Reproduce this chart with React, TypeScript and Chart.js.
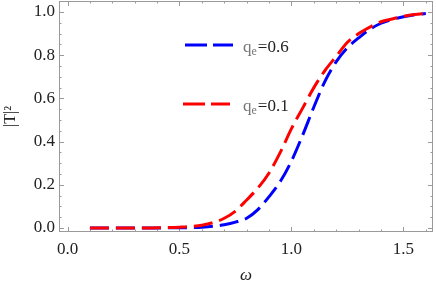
import React, { useEffect, useRef } from 'react';
import { Chart, registerables } from 'chart.js';

Chart.register(...registerables);

// ω values
const omega = [
  0.1, 0.15, 0.2, 0.25, 0.3, 0.35, 0.4, 0.45, 0.5, 0.55, 0.6, 0.65, 0.7, 0.75, 0.8,
  0.85, 0.9, 0.95, 1.0, 1.05, 1.1, 1.15, 1.2, 1.25, 1.3, 1.35, 1.4, 1.45, 1.5, 1.55, 1.6,
];
// |T|^2 for q_e = 0.6 (blue)
const tQe06 = [
  0.0, 0.0, 0.0, 0.0, 0.0, 0.0, 0.0, 0.001, 0.001, 0.002, 0.004, 0.008, 0.015, 0.027, 0.045,
  0.085, 0.145, 0.215, 0.31, 0.43, 0.56, 0.68, 0.77, 0.835, 0.88, 0.92, 0.948, 0.966, 0.978, 0.987, 0.993,
];
// |T|^2 for q_e = 0.1 (red)
const tQe01 = [
  0.0, 0.0, 0.0, 0.0, 0.0, 0.0, 0.001, 0.002, 0.004, 0.007, 0.013, 0.025, 0.045, 0.078, 0.13,
  0.185, 0.255, 0.35, 0.46, 0.555, 0.65, 0.73, 0.795, 0.86, 0.9, 0.93, 0.955, 0.968, 0.98, 0.988, 0.993,
];

const seriesLabels = ['0.6', '0.1'];
const seriesColors = ['#0000ff', '#ff0000'];

const xMajorTicks = [0, 0.5, 1.0, 1.5];
const xMinorTicks = [0.1, 0.2, 0.3, 0.4, 0.6, 0.7, 0.8, 0.9, 1.1, 1.2, 1.3, 1.4, 1.6];
const yMajorTicks = [0, 0.2, 0.4, 0.6, 0.8, 1.0];
const yMinorTicks = [
  0.05, 0.1, 0.15, 0.25, 0.3, 0.35, 0.45, 0.5, 0.55, 0.65, 0.7, 0.75, 0.85, 0.9, 0.95,
];

const X_MIN = -0.038;
const X_MAX = 1.632;
const Y_MIN = -0.0185;
const Y_MAX = 1.051;

const FONT = "'Liberation Serif'";
const DASH = [19, 7];

const zeroPad = (s: any) => {
  s.paddingTop = 0;
  s.paddingBottom = 0;
  s.paddingLeft = 0;
  s.paddingRight = 0;
};

const framePlugin = {
  id: 'mmaFrame',
  beforeDatasetsDraw(chart: any) {
    const { ctx, chartArea: a, scales } = chart;
    const x = scales.x;
    const y = scales.y;
    ctx.save();
    ctx.strokeStyle = '#9a9a9a';
    ctx.lineWidth = 1;
    ctx.strokeRect(a.left + 0.5, a.top + 0.5, a.right - a.left - 1, a.bottom - a.top - 1);
    ctx.beginPath();
    const xt = (vals: number[], len: number) => {
      vals.forEach((v) => {
        const px = Math.round(x.getPixelForValue(v)) + 0.5;
        ctx.moveTo(px, a.bottom);
        ctx.lineTo(px, a.bottom - len);
        ctx.moveTo(px, a.top);
        ctx.lineTo(px, a.top + len);
      });
    };
    const yt = (vals: number[], len: number) => {
      vals.forEach((v) => {
        const py = Math.round(y.getPixelForValue(v)) + 0.5;
        ctx.moveTo(a.left, py);
        ctx.lineTo(a.left + len, py);
        ctx.moveTo(a.right, py);
        ctx.lineTo(a.right - len, py);
      });
    };
    xt(xMajorTicks, 5);
    xt(xMinorTicks, 2.5);
    yt(yMajorTicks, 5);
    yt(yMinorTicks, 2.5);
    ctx.stroke();
    ctx.restore();
  },
  afterDraw(chart: any) {
    const { ctx, chartArea: a } = chart;
    ctx.save();
    const rows = [
      { dy: 44, x0: 126, x1: 174 },
      { dy: 103, x0: 124, x1: 171 },
    ];
    rows.forEach((r, i) => {
      const yy = a.top + r.dy;
      ctx.strokeStyle = seriesColors[i];
      ctx.lineWidth = 3;
      ctx.setLineDash([22, 6]);
      ctx.beginPath();
      ctx.moveTo(a.left + r.x0, yy);
      ctx.lineTo(a.left + r.x1, yy);
      ctx.stroke();
      ctx.setLineDash([]);
      let tx = a.left + 184;
      const base = yy + 7;
      ctx.textBaseline = 'alphabetic';
      ctx.textAlign = 'left';
      ctx.font = `17px ${FONT}`;
      ctx.fillStyle = '#777777';
      ctx.fillText('q', tx, base);
      tx += ctx.measureText('q').width;
      ctx.font = `12px ${FONT}`;
      ctx.fillText('e', tx, base + 3);
      tx += ctx.measureText('e').width + 1;
      ctx.font = `17px ${FONT}`;
      ctx.fillStyle = '#222222';
      ctx.fillText('=' + seriesLabels[i], tx, base);
    });
    ctx.restore();
  },
};

export default function App() {
  const ref = useRef<HTMLCanvasElement | null>(null);
  useEffect(() => {
    if (!ref.current) return;
    const chart = new Chart(ref.current, {
      type: 'line',
      data: {
        datasets: [
          {
            label: 'q_e=0.1',
            data: omega.map((w, i) => ({ x: w, y: tQe01[i] })),
            borderColor: seriesColors[1],
            borderWidth: 3,
            borderDash: DASH,
            pointRadius: 0,
            cubicInterpolationMode: 'monotone',
            fill: false,
          },
          {
            label: 'q_e=0.6',
            data: omega.map((w, i) => ({ x: w, y: tQe06[i] })),
            borderColor: seriesColors[0],
            borderWidth: 3,
            borderDash: DASH,
            pointRadius: 0,
            cubicInterpolationMode: 'monotone',
            fill: false,
          },
        ],
      },
      options: {
        animation: false,
        responsive: false,
        maintainAspectRatio: false,
        layout: { padding: { left: 0, right: 3, top: 1, bottom: 0 } },
        plugins: { legend: { display: false }, tooltip: { enabled: false } },
        scales: {
          x: {
            type: 'linear',
            min: X_MIN,
            max: X_MAX,
            border: { display: false },
            grid: { display: false, drawTicks: false },
            afterBuildTicks: (s: any) => {
              s.ticks = xMajorTicks.map((v) => ({ value: v }));
            },
            afterFit: (s: any) => {
              s.height = 54;
              zeroPad(s);
            },
            ticks: {
              autoSkip: false,
              maxRotation: 0,
              padding: 7,
              color: '#222222',
              font: { family: FONT, size: 17 },
              callback: (v: any) => Number(v).toFixed(1),
            },
            title: {
              display: true,
              text: 'ω',
              color: '#222222',
              font: { family: FONT, size: 17, style: 'italic' },
              padding: { top: 0, bottom: 0 },
            },
          },
          y: {
            type: 'linear',
            min: Y_MIN,
            max: Y_MAX,
            border: { display: false },
            grid: { display: false, drawTicks: false },
            afterBuildTicks: (s: any) => {
              s.ticks = yMajorTicks.map((v) => ({ value: v }));
            },
            afterFit: (s: any) => {
              s.width = 59;
              zeroPad(s);
            },
            ticks: {
              autoSkip: false,
              padding: 4,
              color: '#222222',
              font: { family: FONT, size: 17 },
              callback: (v: any) => Number(v).toFixed(1),
            },
            title: {
              display: true,
              text: '|T|²',
              color: '#222222',
              font: { family: FONT, size: 16 },
              padding: { top: 1, bottom: 0 },
            },
          },
        },
      },
      plugins: [framePlugin],
    } as any);
    return () => chart.destroy();
  }, []);
  return (
    <div style={{ position: 'absolute', left: 0, top: 0, width: 436, height: 286, background: '#fff' }}>
      <canvas ref={ref} width={436} height={286} style={{ display: 'block' }} />
    </div>
  );
}
